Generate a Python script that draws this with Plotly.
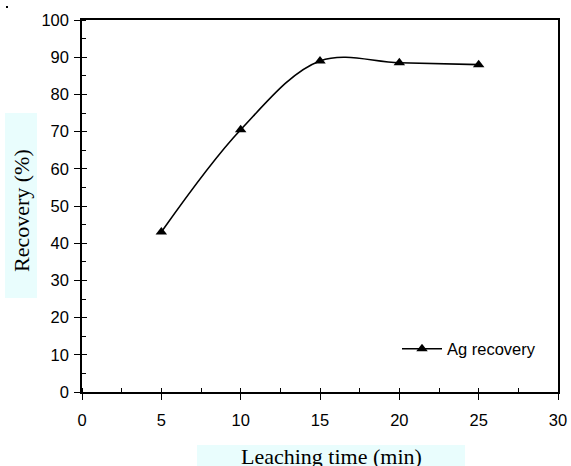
import plotly.graph_objects as go

# Data
time_min = [5, 10, 15, 20, 25]
ag_recovery = [43, 70.5, 89, 88.5, 88]
series_name = "Ag recovery"
x_title = "Leaching time (min)"
y_title = "Recovery (%)"

W, H = 571, 466
ML, MR, MT, MB = 82, 13, 20, 74
PW, PH = W - ML - MR, H - MT - MB


def px_x(p):
    return (p - ML) / PW


def px_y(p):
    return (H - MB - p) / PH


fig = go.Figure()
fig.add_trace(go.Scatter(
    x=time_min, y=ag_recovery, name=series_name,
    mode="lines+markers",
    line=dict(color="black", width=1.6, shape="spline", smoothing=1),
    marker=dict(symbol="triangle-up", size=10, color="black"),
))
# invisible trace to activate overlay axes (crossing major ticks)
fig.add_trace(go.Scatter(
    x=time_min, y=ag_recovery, xaxis="x2", yaxis="y2", mode="lines",
    line=dict(width=0), opacity=0, showlegend=False, hoverinfo="skip",
))

tick_font = dict(family="Liberation Sans, Arial", size=16.5, color="black")
axis_common = dict(
    showline=True, linecolor="black", linewidth=1.5, mirror=True,
    showgrid=False, zeroline=False, ticks="outside", ticklen=6,
    tickwidth=1.3, tickcolor="black", tickfont=tick_font, automargin=False,
)

fig.update_layout(
    width=W, height=H,
    margin=dict(l=ML, r=MR, t=MT, b=MB, autoexpand=False),
    paper_bgcolor="white", plot_bgcolor="white",
    showlegend=True,
    legend=dict(
        x=px_x(397), y=px_y(349), xanchor="left", yanchor="middle",
        bgcolor="rgba(0,0,0,0)", borderwidth=0, itemwidth=40,
        font=dict(family="Liberation Sans, Arial", size=16.5, color="black"),
    ),
    xaxis=dict(
        range=[0, 30], dtick=5, tick0=0, ticklabelstandoff=6,
        minor=dict(ticks="inside", dtick=2.5, ticklen=4, tickwidth=1.3, tickcolor="black"),
        **axis_common,
    ),
    yaxis=dict(
        range=[0, 100], dtick=10, tick0=0, ticklabelstandoff=2,
        minor=dict(ticks="inside", dtick=5, ticklen=4, tickwidth=1.3, tickcolor="black"),
        **axis_common,
    ),
    xaxis2=dict(
        overlaying="x", range=[0, 30], dtick=5, tick0=0, ticks="inside",
        ticklen=4, tickwidth=1.3, tickcolor="black", showticklabels=False,
        showline=False, showgrid=False, zeroline=False, side="bottom",
    ),
    yaxis2=dict(
        overlaying="y", range=[0, 100], dtick=10, tick0=0, ticks="inside",
        ticklen=5, tickwidth=1.3, tickcolor="black", showticklabels=False,
        showline=False, showgrid=False, zeroline=False, side="left",
    ),
)

box_color = "#E9FDFD"
# title background boxes
fig.add_shape(type="rect", xref="paper", yref="paper",
              x0=px_x(5), x1=px_x(37), y0=px_y(298), y1=px_y(113),
              fillcolor=box_color, line=dict(width=0), layer="below")
fig.add_shape(type="rect", xref="paper", yref="paper",
              x0=px_x(197), x1=px_x(465), y0=px_y(480), y1=px_y(445),
              fillcolor=box_color, line=dict(width=0), layer="below")
# tiny mark in the corner
fig.add_shape(type="rect", xref="paper", yref="paper",
              x0=px_x(6), x1=px_x(8), y0=px_y(8), y1=px_y(6),
              fillcolor="black", line=dict(width=0))

title_font = dict(family="Liberation Serif, Times New Roman", size=22, color="black")
fig.add_annotation(text=x_title, xref="paper", yref="paper",
                   x=px_x(331), y=px_y(456), xanchor="center", yanchor="middle",
                   showarrow=False, font=title_font)
fig.add_annotation(text=y_title, xref="paper", yref="paper",
                   x=px_x(21), y=px_y(211), xanchor="center", yanchor="middle",
                   textangle=-90, showarrow=False, font=title_font)

fig.write_html("out.html")
